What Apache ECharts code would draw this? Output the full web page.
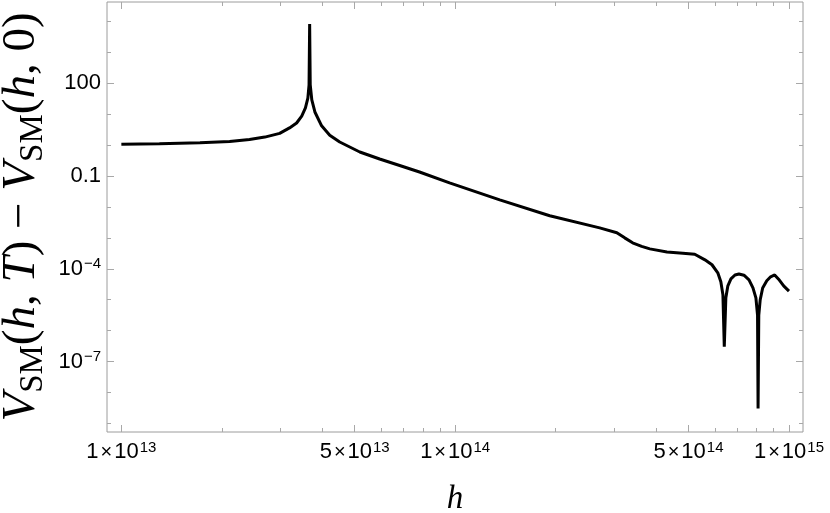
<!DOCTYPE html>
<html><head><meta charset="utf-8">
<script src="https://cdn.jsdelivr.net/npm/echarts@6/dist/echarts.min.js"></script>
<style>html,body{margin:0;padding:0;background:#fff}#c{width:830px;height:513px}</style>
</head><body><div id="c"></div>
<script>
// ---- data ----
const hValues = [1e13, 1.30e13, 1.72e13, 2.11e13, 2.42e13, 2.69e13, 2.98e13, 3.19e13, 3.35e13, 3.47e13,
  3.56e13, 3.62e13, 3.65e13, 3.665e13, 3.68e13, 3.72e13, 3.80e13, 3.98e13, 4.21e13, 4.51e13,
  5.18e13, 5.94e13, 6.82e13, 7.82e13, 9.62e13, 1.36e14, 1.92e14, 2.71e14, 3.05e14, 3.22e14,
  3.40e14, 3.62e14, 3.83e14, 4.31e14, 4.81e14, 5.22e14, 5.60e14, 5.88e14, 6.12e14, 6.25e14,
  6.34e14, 6.40e14, 6.47e14, 6.56e14, 6.70e14, 6.89e14, 7.08e14, 7.33e14, 7.59e14, 7.80e14,
  7.96e14, 8.05e14, 8.08e14, 8.12e14, 8.20e14, 8.34e14, 8.58e14, 8.81e14, 9.06e14, 9.31e14,
  9.64e14, 1e15];
const vValues = [1.07, 1.1, 1.2, 1.31, 1.52, 1.82, 2.4, 3.6, 5.2, 8.7,
  16, 33, 89, 8300, 89, 29, 11.8, 4.2, 2.1, 1.26,
  0.6, 0.355, 0.22, 0.135, 0.060, 0.017, 0.0052, 0.0021, 0.00147, 0.001,
  0.00069, 0.00053, 0.00044, 0.00035, 0.00032, 0.000295, 0.000195, 0.000135, 7.4e-5, 3.8e-5,
  1.45e-5, 3.0e-7, 1.15e-5, 2.8e-5, 4.7e-5, 6.3e-5, 6.8e-5, 6.2e-5, 4.4e-5, 2.4e-5,
  1.15e-5, 3.2e-6, 3.0e-9, 3.2e-6, 1.0e-5, 2.4e-5, 4.1e-5, 5.5e-5, 6.3e-5, 4.6e-5,
  2.8e-5, 1.9e-5];

const xMajorTicks = [1e13, 5e13, 1e14, 5e14, 1e15];
const xMajorLabels = ['1×10^13', '5×10^13', '1×10^14', '5×10^14', '1×10^15'];
const xMinorTicks = [2e13, 3e13, 4e13, 6e13, 7e13, 8e13, 9e13, 2e14, 3e14, 4e14, 6e14, 7e14, 8e14, 9e14];
const yMajorTicks = [100, 0.1, 1e-4, 1e-7];
const yMajorLabels = ['100', '0.1', '10^−4', '10^−7'];
const yMinorTicks = [1e4, 1e3, 10, 1, 1e-2, 1e-3, 1e-5, 1e-6, 1e-8, 1e-9];
const xName = 'h';
const yNameParts = [['i', 'V'], ['sub', 'SM'], ['r', '('], ['i', 'h'], ['r', ', '], ['i', 'T'], ['r', ') − '],
                    ['i', 'V'], ['sub', 'SM'], ['r', '('], ['i', 'h'], ['r', ', 0)']];

// ---- rendering ----
const X_MIN = Math.pow(10, 12.957), X_MAX = Math.pow(10, 15.042);
const Y_MIN = Math.pow(10, -9.28), Y_MAX = Math.pow(10, 4.63);
const FRAME = '#9c9c9c';
const TICK = '#a8a8a8';
const SANS = '"Liberation Sans", Arial, Helvetica, sans-serif';
const SERIF = '"Liberation Serif", "Times New Roman", serif';

function toRich(s) {
  const parts = s.split('^');
  let out;
  if (parts[0].indexOf('×') >= 0) {
    const mb = parts[0].split('×');
    out = '{b|' + mb[0] + '}{t|×}{b|' + mb[1] + '}';
  } else {
    out = '{b|' + parts[0] + '}';
  }
  if (parts.length > 1) out += '{s|' + parts[1] + '}';
  return out;
}
function labelFor(ticks, labels) {
  return function (v) {
    for (let i = 0; i < ticks.length; i++) {
      if (Math.abs(Math.log10(v) - Math.log10(ticks[i])) < 1e-6) return toRich(labels[i]);
    }
    return '';
  };
}
const labelRich = {
  b: { fontFamily: SANS, fontSize: 22, lineHeight: 24, color: '#000' },
  t: { fontFamily: SANS, fontSize: 20, lineHeight: 24, color: '#000', padding: [0, 2, 0, 2] },
  s: { fontFamily: SANS, fontSize: 15, lineHeight: 15, color: '#000', verticalAlign: 'top', padding: [0, 0, 0, 1] }
};

function xAx(pos, ticks, len, withLabels) {
  const a = {
    type: 'log', logBase: 10, min: X_MIN, max: X_MAX, position: pos,
    axisLine: { show: false, onZero: false },
    splitLine: { show: false },
    axisTick: { show: true, inside: true, length: len, customValues: ticks, lineStyle: { color: TICK, width: 1 } },
    axisLabel: { show: false }
  };
  if (withLabels) {
    a.axisLabel = { show: true, customValues: ticks, margin: 8, fontSize: 22, fontFamily: SANS, color: '#000',
                    formatter: labelFor(xMajorTicks, xMajorLabels), rich: labelRich };
    a.name = xName;
    a.nameLocation = 'middle';
    a.nameGap = 51;
    a.nameMoveOverlap = false;
    a.nameTextStyle = { fontFamily: SERIF, fontStyle: 'italic', fontSize: 33, color: '#000' };
  }
  return a;
}
function yAx(pos, ticks, len, withLabels) {
  const a = {
    type: 'log', logBase: 10, min: Y_MIN, max: Y_MAX, position: pos,
    axisLine: { show: false, onZero: false },
    splitLine: { show: false },
    axisTick: { show: true, inside: true, length: len, customValues: ticks, lineStyle: { color: TICK, width: 1 } },
    axisLabel: { show: false }
  };
  if (withLabels) {
    a.axisLabel = { show: true, customValues: ticks, margin: 6, align: 'right', fontSize: 22, fontFamily: SANS, color: '#000',
                    formatter: labelFor(yMajorTicks, yMajorLabels), rich: labelRich };
    a.name = yNameParts.map(p => '{' + p[0] + '|' + p[1] + '}').join('');
    a.nameLocation = 'middle';
    a.nameRotate = 90;
    a.nameGap = 57;
    a.nameMoveOverlap = false;
    a.nameTextStyle = {
      color: '#000', fontFamily: SERIF, fontSize: 47,
      rich: {
        i: { fontFamily: SERIF, fontStyle: 'italic', fontSize: 47, lineHeight: 57, color: '#000' },
        r: { fontFamily: SERIF, fontSize: 47, lineHeight: 57, color: '#000' },
        sub: { fontFamily: SERIF, fontSize: 33, lineHeight: 33, verticalAlign: 'bottom', color: '#000' }
      }
    };
  }
  return a;
}

const chart = echarts.init(document.getElementById('c'), null, { renderer: 'canvas' });
chart.setOption({
  animation: false,
  backgroundColor: '#fff',
  grid: { left: 107, right: 27, top: 2, bottom: 81, show: true, borderColor: FRAME, borderWidth: 1,
          backgroundColor: 'transparent', outerBoundsMode: 'none', containLabel: false },
  xAxis: [
    xAx('bottom', xMajorTicks, 7, true),
    xAx('bottom', xMinorTicks, 4, false),
    xAx('top', xMajorTicks, 7, false),
    xAx('top', xMinorTicks, 4, false)
  ],
  yAxis: [
    yAx('left', yMajorTicks, 7, true),
    yAx('left', yMinorTicks, 4, false),
    yAx('right', yMajorTicks, 7, false),
    yAx('right', yMinorTicks, 4, false)
  ],
  series: [{
    type: 'line',
    xAxisIndex: 0, yAxisIndex: 0,
    data: hValues.map((h, i) => [h, vValues[i]]),
    showSymbol: false,
    symbol: 'none',
    lineStyle: { color: '#000', width: 3 },
    silent: true
  }]
});
</script>
</body></html>
